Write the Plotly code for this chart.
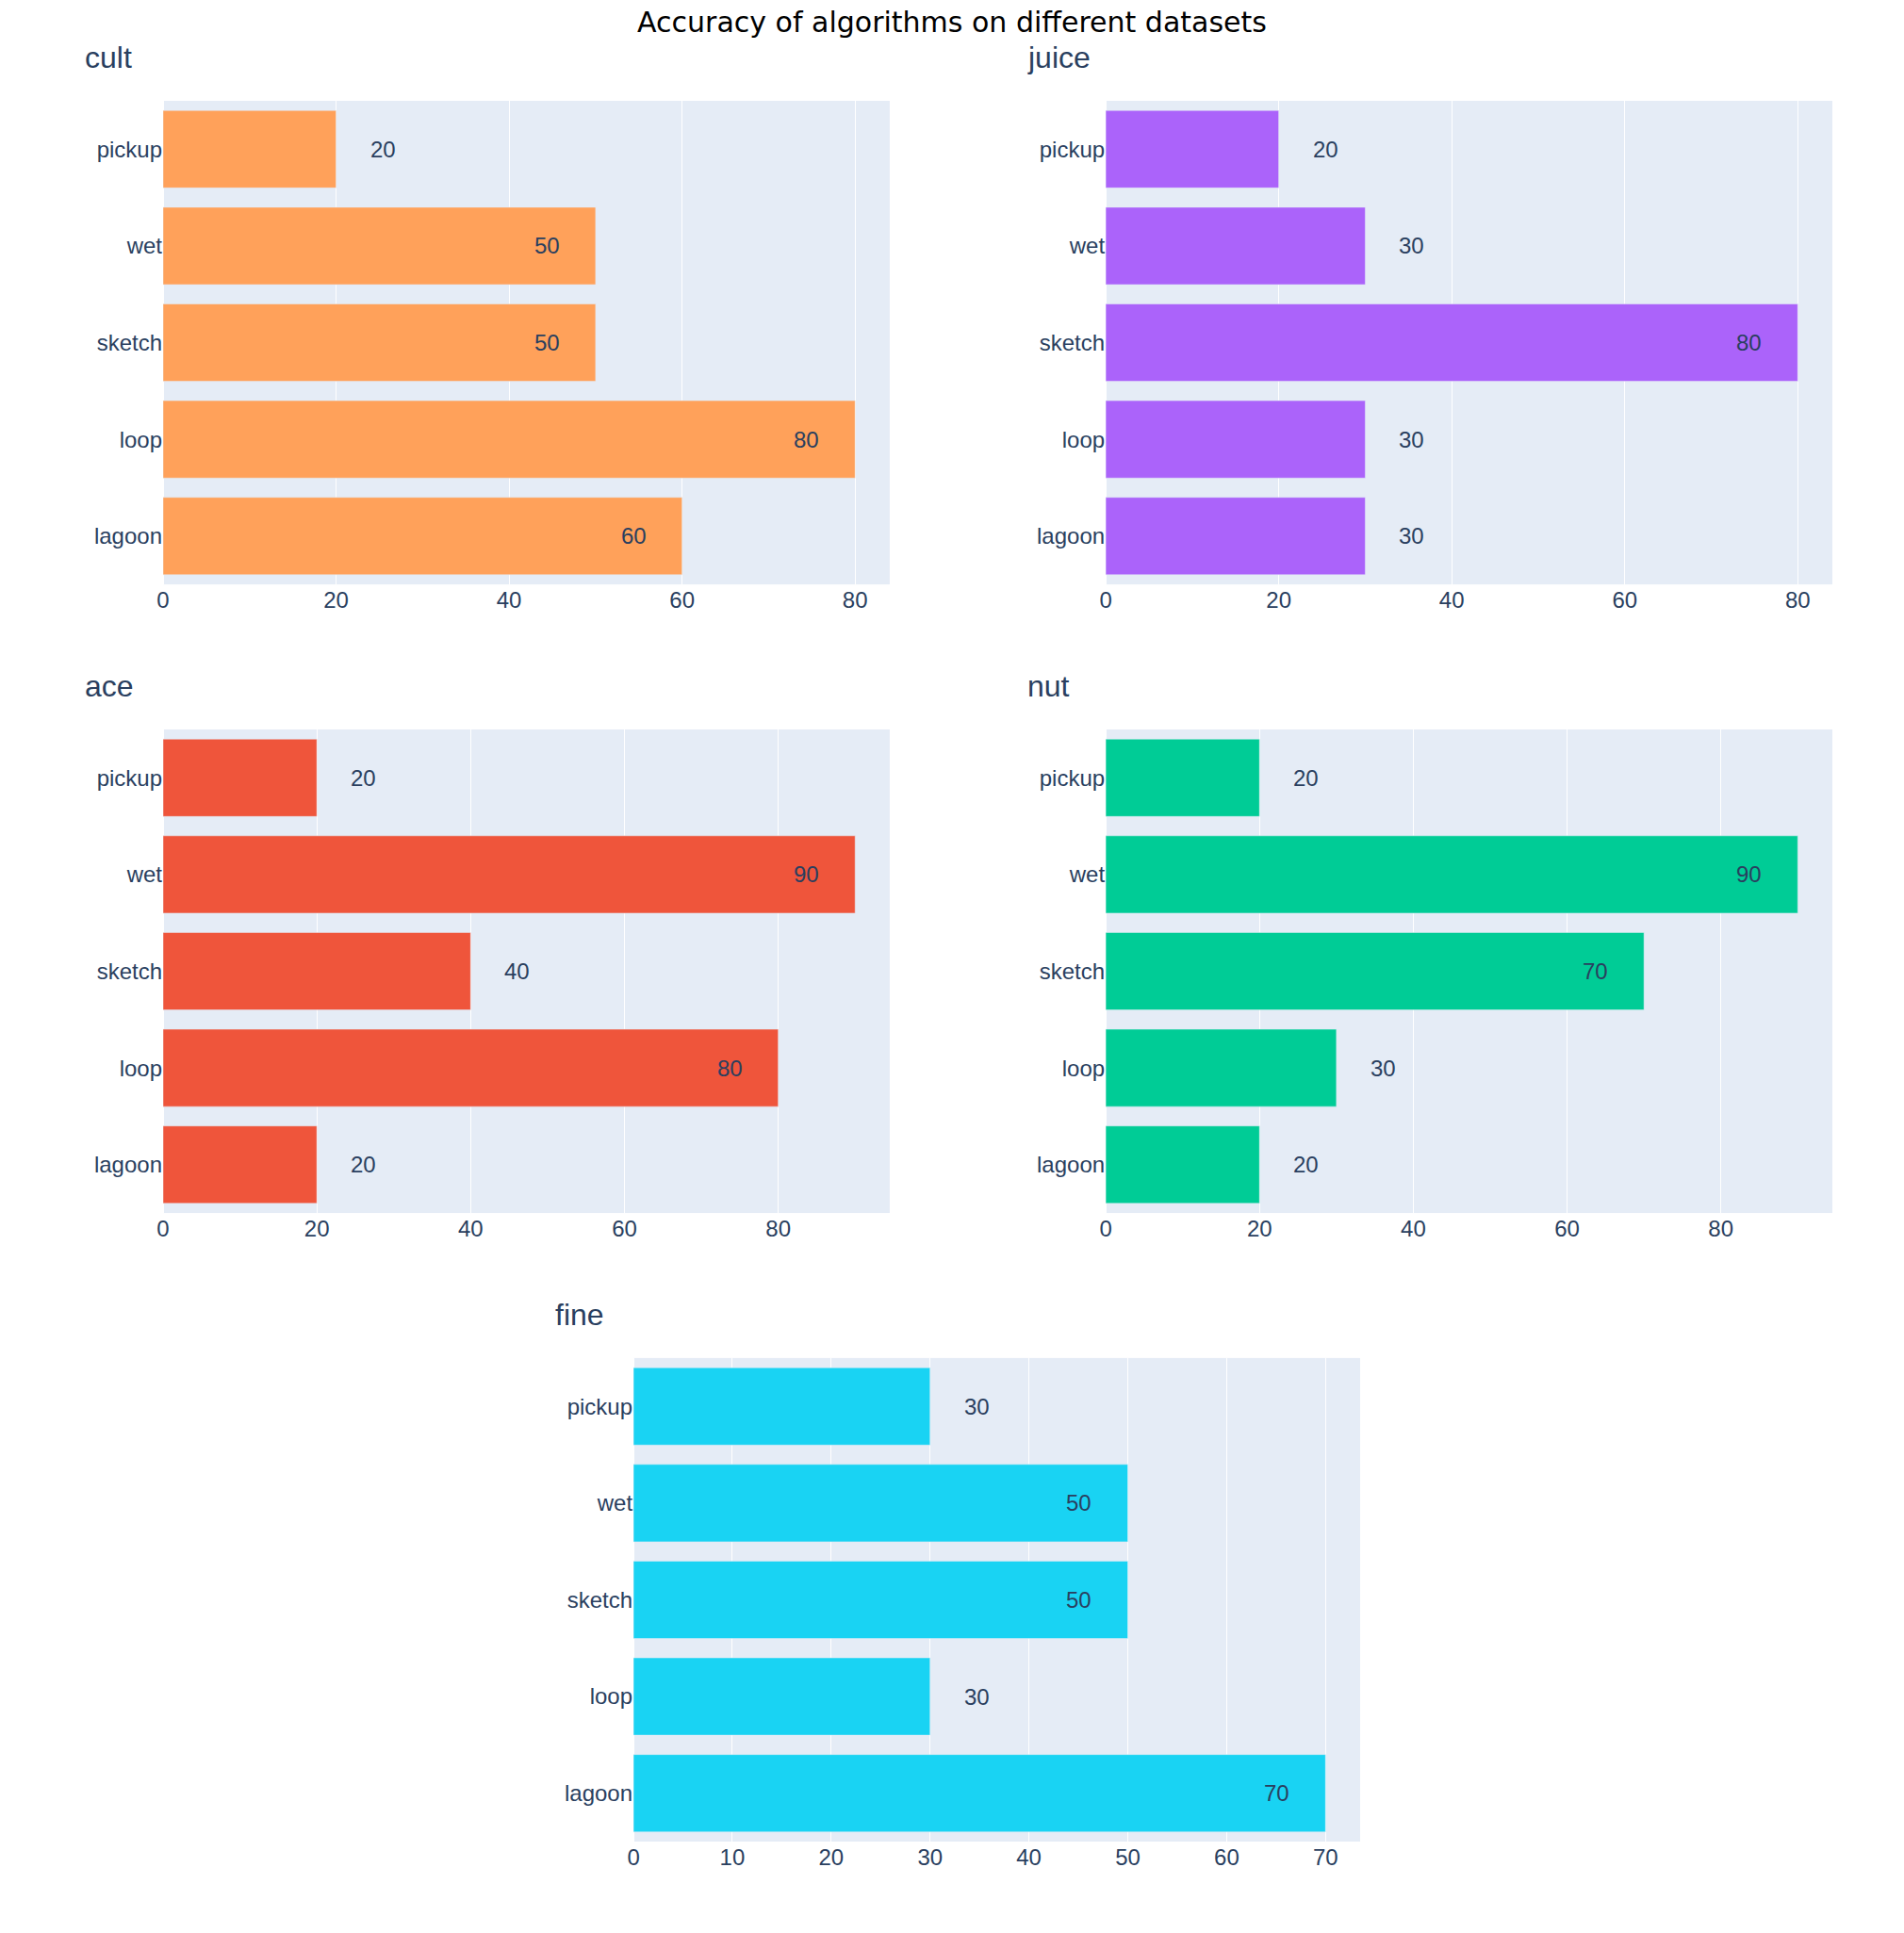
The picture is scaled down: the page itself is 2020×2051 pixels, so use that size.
import plotly.graph_objects as go

categories = ["lagoon", "loop", "sketch", "wet", "pickup"]
datasets = ["cult", "juice", "ace", "nut", "fine"]
cult = [60, 80, 50, 50, 20]
juice = [30, 30, 80, 30, 20]
ace = [20, 80, 40, 90, 20]
nut = [20, 30, 70, 90, 20]
fine = [70, 30, 50, 50, 30]
colors = ["#FFA15A", "#AB63FA", "#EF553B", "#00CC96", "#19D3F3"]
tick_steps = [20, 20, 20, 20, 10]

series = [cult, juice, ace, nut, fine]

W, H = 2020, 2051
ML, MR, MT, MB = 173, 76, 107, 97
pw = W - ML - MR
ph = H - MT - MB

xdomains = [[0, 0.4353], [0.5647, 1], [0, 0.4353], [0.5647, 1], [0.2818, 0.7171]]
ydomains = [[0.7222, 1], [0.7222, 1], [0.3611, 0.6389], [0.3611, 0.6389], [0, 0.2778]]

fig = go.Figure()
annotations = []
for i, (name, vals, col) in enumerate(zip(datasets, series, colors)):
    ax = "" if i == 0 else str(i + 1)
    fig.add_trace(go.Bar(x=vals, y=categories, orientation="h", marker_color=col,
                         xaxis="x" + ax, yaxis="y" + ax, showlegend=False))
    for v, c in zip(vals, categories):
        inside = v > 40
        annotations.append(dict(text=str(v), x=v, y=c, xref="x" + ax, yref="y" + ax,
                                xanchor="right" if inside else "left", yanchor="middle",
                                xshift=-36 if inside else 34, showarrow=False,
                                font=dict(size=24, color="#2a3f5f", family="Arial")))
    fig.layout["xaxis" + ax] = dict(domain=xdomains[i], anchor="y" + ax,
                                    range=[0, max(vals) * 1.05], dtick=tick_steps[i])
    fig.layout["yaxis" + ax] = dict(domain=ydomains[i], anchor="x" + ax,
                                    range=[-0.5, len(categories) - 0.5])
    annotations.append(dict(text=name, xref="paper", yref="paper",
                            x=xdomains[i][0] - 85 / pw, y=ydomains[i][1],
                            xanchor="left", yanchor="middle", yshift=46, showarrow=False,
                            font=dict(size=32, color="#2a3f5f", family="Arial")))

fig.update_layout(
    width=W, height=H,
    margin=dict(l=ML, r=MR, t=MT, b=MB),
    font=dict(family="Arial", size=24, color="#2a3f5f"),
    title=dict(text="Accuracy of algorithms on different datasets", x=0.5, xanchor="center",
               y=1 - 23.5 / H, yanchor="middle",
               font=dict(family="DejaVu Sans", size=30, color="black")),
    annotations=annotations,
    template="plotly",
)

fig.write_html("out.html")
